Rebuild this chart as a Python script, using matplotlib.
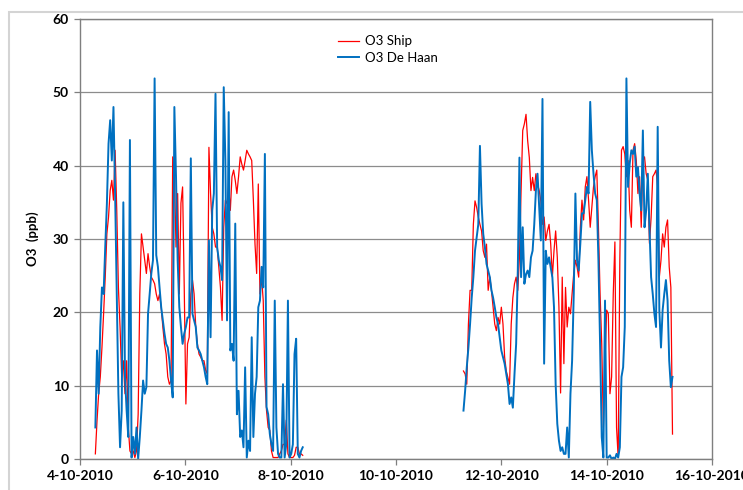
import numpy as np
import pandas as pd
import matplotlib
matplotlib.use('Agg')
import matplotlib.pyplot as plt
import matplotlib.dates as mdates
from matplotlib.patches import Rectangle

# O3 in ppb, 45 min steps
# first block starts 4-10-2010 07:00, second block 11-10-2010 06:45
ship_1 = [0.7, 5.2, 8.9, 11.2, 15.2, 19.8, 24.8, 30.7, 33.0, 36.6,
          38.0, 35.3, 42.1, 33.9, 23.4, 18.0, 11.2, 13.4, 8.9, 13.4,
          4.3, 1.1, 0.7, 1.1, 0.2, 1.1, 6.1, 22.5, 30.7, 28.9,
          27.1, 25.3, 28.0, 26.2, 24.8, 24.4, 23.9, 22.5, 21.6, 22.5,
          20.7, 18.0, 15.7, 14.3, 11.2, 10.2, 10.7, 41.2, 39.4, 28.9,
          36.2, 22.5, 34.9, 37.1, 23.4, 7.5, 15.7,
          16.6, 22.5, 24.4, 22.5, 18.0, 15.7, 14.3, 13.9, 13.4, 13.4,
          12.1, 11.6, 42.5, 36.2, 31.6, 30.7, 28.9, 28.9, 26.2, 23.4,
          18.9, 31.6, 35.3, 34.8, 37.1, 33.9, 38.5, 39.4, 38.0, 36.2,
          38.5, 41.2, 40.2, 39.4, 40.7, 42.1, 41.6, 41.2, 40.7, 35.3,
          29.3, 25.3, 37.5, 22.5, 24.8, 21.6, 11.2, 6.6, 4.3, 3.9,
          1.1, 0.2, 0.2, 0.2, 0.2, 0.7, 1.1, 2.0, 2.0, 5.3,
          0.7, 0.2, 0.2, 0.2, 0.5, 1.6, 1.6, 0.7, 0.7, 0.5]

haan_1 = [4.3, 14.8, 8.9, 18.0, 23.4, 22.5, 28.9, 34.8, 43.0, 46.2,
          40.7, 48.0, 36.2, 22.5, 8.9, 1.6, 6.6, 35.0, 11.2, 6.6,
          3.0, 43.5, 0.2, 3.0, 0.7, 4.3, 0.0, 3.0, 6.6, 10.7,
          8.9, 9.8, 19.8, 22.5, 25.3, 27.1, 51.9, 27.8, 26.2, 23.4,
          20.7, 18.9, 17.1, 15.7, 15.2, 13.4, 10.7, 8.4, 48.0, 38.5,
          27.1, 20.7, 18.0, 15.7, 17.1, 18.0, 19.3,
          19.3, 41.0, 19.8, 18.9, 18.0, 15.2, 14.8, 14.3, 13.4, 12.5,
          11.2, 10.2, 29.8, 16.6, 33.9, 36.2, 49.8, 28.9, 27.1, 26.2,
          24.4, 50.7, 40.7, 18.9, 47.3, 14.8, 15.7, 13.4, 32.1, 6.1,
          9.3, 3.0, 3.9, 1.6, 12.5, 0.2, 2.5, 1.1, 16.6, 3.0,
          8.9, 11.2, 20.7, 21.6, 26.2, 23.4, 41.6, 7.1, 6.1, 3.4,
          2.0, 1.1, 21.6, 4.3, 0.7, 0.2, 0.2, 10.2, 0.2, 2.0,
          21.6, 0.2, 0.7, 2.0, 14.3, 16.4, 0.7, 0.2, 1.1, 1.6]

ship_2 = [12.0, 11.6, 10.2, 18.4, 23.0, 23.0, 32.0, 35.2, 34.3, 33.0,
          32.0, 31.1, 28.4, 27.5, 29.3, 23.0, 24.8, 23.0, 20.7, 18.4,
          17.5, 19.3, 18.4, 20.7, 18.4, 13.9, 12.0, 11.1, 10.2, 18.4,
          22.0, 23.9, 24.8, 23.0, 27.5, 36.6, 44.8, 45.7, 47.0, 43.4,
          41.1, 36.6, 38.4, 36.6, 38.9, 37.5, 36.6, 35.2, 32.0, 33.0,
          29.8, 31.1, 32.0, 29.3, 24.8, 28.4, 31.1, 27.5,
          20.7, 9.0, 24.8, 13.0, 23.4, 18.0, 20.7, 19.8, 22.5, 25.3,
          27.1, 26.2, 24.8, 31.6, 35.3, 32.6, 37.1, 38.5, 35.3, 31.6,
          34.4, 37.1, 38.5, 39.4, 31.6, 22.5, 15.7, 4.3, 13.4, 20.3,
          19.8, 8.9, 11.2, 22.5, 29.6, 4.3, 0.2, 27.1, 42.1, 42.6,
          41.6, 38.5, 40.7, 33.9, 31.6, 42.1, 43.0, 40.7, 36.2, 38.5,
          31.6, 40.7, 41.2, 38.9, 38.0, 29.4, 32.9, 38.5, 38.9, 39.4,
          37.1, 24.8, 27.1, 30.7, 28.9, 31.6, 32.6, 26.2, 23.4, 3.4]

haan_2 = [6.6, 9.3, 12.5, 15.2, 18.4, 22.0, 24.8, 28.4, 30.2, 32.0,
          42.7, 34.8, 30.7, 28.9, 26.6, 25.7, 24.8, 23.0, 22.0, 20.7,
          19.3, 18.4, 16.6, 14.8, 13.9, 13.0, 11.6, 10.2, 7.5, 8.4,
          7.0, 11.6, 15.7, 25.7, 41.1, 24.8, 31.6, 23.9, 25.2, 25.7,
          24.8, 27.5, 28.4, 32.0, 36.6, 38.9, 34.3, 29.8, 49.1, 13.0,
          28.4, 26.6, 27.5, 26.1, 24.8, 20.7, 10.2, 4.8,
          2.5, 1.1, 1.6, 0.7, 0.7, 4.3, 0.2, 8.9, 13.4, 22.5,
          36.2, 27.1, 25.7, 29.4, 33.5, 33.5, 35.3, 37.1, 36.2, 48.7,
          42.1, 38.9, 36.2, 35.3, 27.1, 15.7, 3.0, 0.2, 21.6, 0.2,
          0.2, 0.5, 0.0, 0.2, 0.0, 0.7, 0.2, 1.6, 11.2, 12.5,
          18.0, 51.9, 37.1, 40.3, 42.1, 41.6, 42.6, 38.5, 39.8, 36.2,
          33.9, 44.8, 31.6, 33.9, 38.9, 31.6, 24.8, 22.5, 19.8, 18.0,
          45.3, 20.3, 15.2, 20.3, 22.5, 24.4, 21.6, 13.4, 9.8, 11.2]

t1 = pd.date_range('2010-10-04 07:00', periods=len(ship_1), freq='45min')
t2 = pd.date_range('2010-10-11 06:45', periods=len(ship_2), freq='45min')

tick_days = pd.date_range('2010-10-04', '2010-10-16', freq='2D')

font = 'Lato'
red = '#ff0000'
blue = '#0070c0'

fig = plt.figure(figsize=(7.43, 4.90), dpi=100)
ax = fig.add_axes([80 / 743, 31 / 490, 632 / 743, 440 / 490])

ax.plot(t1, ship_1, color=red, lw=0.9, label='O3 Ship')
ax.plot(t2, ship_2, color=red, lw=0.9)
ax.plot(t1, haan_1, color=blue, lw=1.4, label='O3 De Haan')
ax.plot(t2, haan_2, color=blue, lw=1.4)

ax.set_xlim(tick_days[0], tick_days[-1])
ax.set_ylim(0, 60)
ax.set_yticks(range(0, 61, 10))
ax.set_xticks(tick_days)
ax.xaxis.set_major_formatter(
    plt.FuncFormatter(lambda v, p: '{d.day}-{d.month}-{d.year}'.format(d=mdates.num2date(v))))

ax.grid(axis='y', color='#8c8c8c', lw=0.9)
ax.set_axisbelow(True)
for s in ax.spines.values():
    s.set_color('#7f7f7f')
    s.set_linewidth(1.0)

ax.tick_params(axis='both', direction='out', length=4, width=0.9, color='#7f7f7f',
               labelsize=10, pad=4)
for lab in ax.get_xticklabels() + ax.get_yticklabels():
    lab.set_fontfamily(font)
    lab.set_fontweight('bold')

ax.set_ylabel('O3  (ppb)', fontfamily=font, fontweight='bold', fontsize=9.5, labelpad=10)

leg = ax.legend(loc='upper left', bbox_to_anchor=(0.39, 0.99), frameon=False,
                handlelength=1.6, handletextpad=0.4, labelspacing=0.35,
                prop={'family': font, 'size': 9.5})

fig.add_artist(Rectangle((9 / 743, -0.1), 1.2, 1.1 - 12 / 490, transform=fig.transFigure,
                         fill=False, edgecolor='#d4d4d4', lw=1.5, clip_on=False))

fig.savefig('out.png', dpi=100)
